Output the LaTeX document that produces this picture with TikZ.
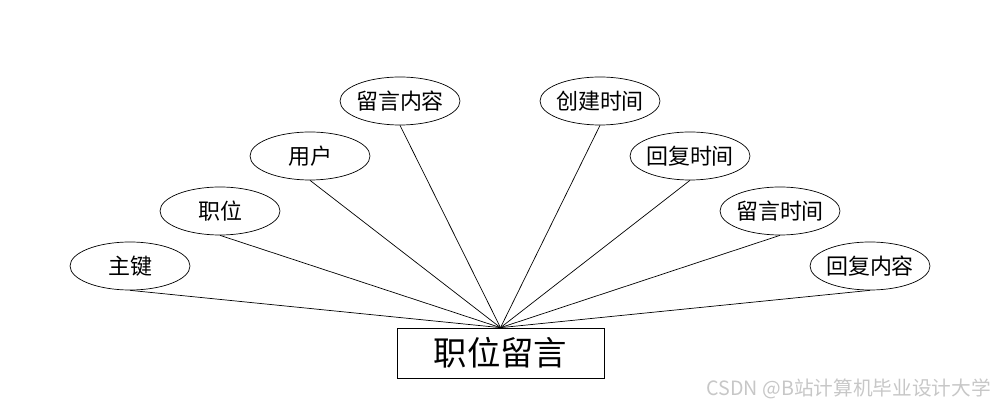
\documentclass[tikz,border=0pt]{standalone}
\usepackage{fontspec}
\usepackage{tikz}
\usetikzlibrary{shapes.geometric}
\newfontfamily\cjk{Noto Sans CJK SC}
\tikzset{
    attr/.style={draw, ellipse, thin, minimum width=2.4cm, minimum height=0.96cm,
      inner xsep=-2mm, inner ysep=0pt, font=\cjk\fontsize{12.5}{15}\selectfont}, % attribute ellipse
    entity/.style={draw, thin, minimum width=4.14cm, minimum height=1cm,
      inner sep=0pt, font=\cjk\fontsize{19}{22}\selectfont}, % entity box
}

\begin{document}
\begin{tikzpicture}[x=0.02cm, y=-0.02cm]
        \useasboundingbox (0, 0) rectangle (1000, 408);
        \node[entity] (msg) at (500.5, 353) {职位留言};
        \node[attr] (key) at (130, 266) {主键};
        \node[attr] (job) at (220, 211) {职位};
        \node[attr] (user) at (310, 156) {用户};
        \node[attr] (content) at (400, 101) {留言内容};
        \node[attr] (created) at (600, 101) {创建时间};
        \node[attr] (replytime) at (690, 156) {回复时间};
        \node[attr] (msgtime) at (780, 211) {留言时间};
        \node[attr] (reply) at (870, 266) {回复内容};
        \foreach \a in {key, job, user, content, created, replytime, msgtime, reply}
          \draw [thin] (\a.south) -- (msg.north);
        \node[text=black!22, font=\cjk\fontsize{11.2}{13}\selectfont, anchor=east]
          (mark) at (997, 389) {CSDN @B站计算机毕业设计大学};
      \end{tikzpicture}
\end{document}
